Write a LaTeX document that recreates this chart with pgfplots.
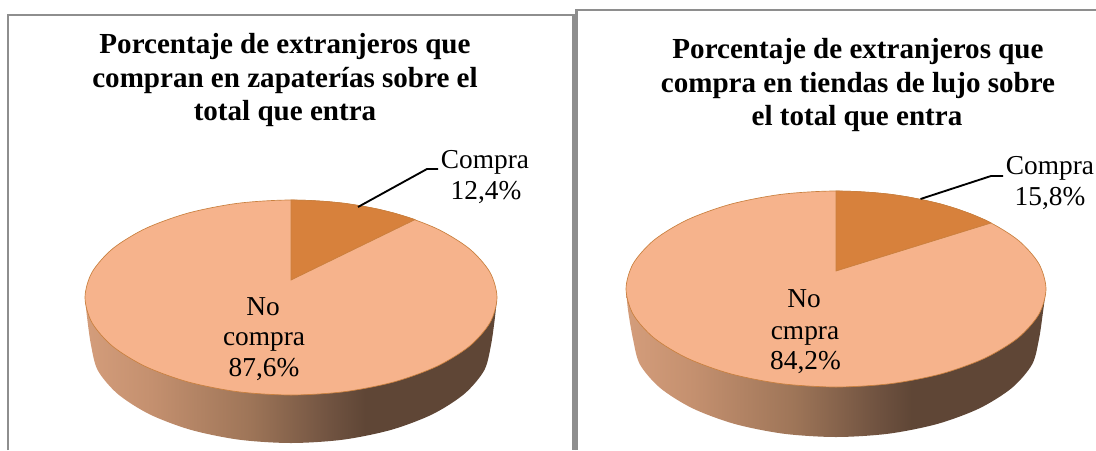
\documentclass[border=0pt]{standalone}
\usepackage{pgfplots}
\pgfplotsset{compat=1.18}
\usepackage{fontspec}
\setmainfont{Liberation Serif}
\definecolor{slicelight}{HTML}{F6B38C}
\definecolor{slicedark}{HTML}{D7813C}
\definecolor{edgeor}{HTML}{C9803F}
\definecolor{framegray}{HTML}{8E8E8E}
\definecolor{sA}{HTML}{D49D7B}
\definecolor{sB}{HTML}{C4906F}
\definecolor{sC}{HTML}{9E7558}
\definecolor{sD}{HTML}{6F5240}
\definecolor{sE}{HTML}{5F4636}
\pgfdeclarehorizontalshading{sidegrad}{100bp}{color(0bp)=(sA); color(25bp)=(sA); color(33bp)=(sB); color(45bp)=(sC); color(55bp)=(sD); color(59bp)=(sE); color(100bp)=(sE)}
\newcommand{\tf}{\fontsize{21.8}{26}\selectfont\bfseries}
\newcommand{\lf}{\fontsize{20.5}{24}\selectfont}
\begin{document}
\begin{tikzpicture}
\useasboundingbox (0,0) rectangle (822pt,337.5pt);
\begin{axis}[at={(0,0)},anchor=south west,scale only axis,width=822pt,height=337.5pt,xmin=0,xmax=1096,ymin=0,ymax=450,y dir=reverse,hide axis,clip=true]
% frames
\addplot[framegray,line width=1.9pt,no marks] coordinates {(8,450)(8,15)(573.5,15)(573.5,450)};
\addplot[framegray,line width=1.9pt,no marks] coordinates {(576.5,450)(576.5,10)(1096,10)};
% left side
\addplot[shade,shading=sidegrad,draw=none,no marks,smooth] coordinates {(85,297.5)(87,317)(91,345)(97.8,370.4)(117.8,394)(149.6,414.3)(191,429.9)(239.2,439.7)(291,443)(342.8,439.7)(391,429.9)(432.4,414.3)(464.2,394)(484.2,370.4)(491,345)(495,317)(497,297.5)} --cycle;
% left top
\addplot[fill=slicelight,draw=edgeor,line width=0.5pt,no marks,smooth cycle] coordinates {(291,200)(344.3,203.3)(394,213.1)(436.7,228.6)(469.4,248.75)(490,272.3)(497,297.5)(490,322.7)(469.4,346.25)(436.7,366.4)(394,381.9)(344.3,391.7)(291,395)(237.7,391.7)(188,381.9)(145.3,366.4)(112.6,346.25)(92,322.7)(85,297.5)(92,272.3)(112.6,248.75)(145.3,228.6)(188,213.1)(237.7,203.3)};
% left wedge 12.4
\addplot[fill=slicedark,draw=edgeor,line width=0.5pt,no marks] coordinates {(291,280)(291,200)(309,200.4)(326.8,201.5)(344.3,203.3)(361.5,205.9)(378.1,209.1)(394,213.1)(409.2,217.6)(415,219.6)} --cycle;
\addplot[black,line width=1.4pt,no marks] coordinates {(358,207)(427,169)(438,169)};
% right side
\addplot[shade,shading=sidegrad,draw=none,no marks,smooth] coordinates {(626,289)(628,310)(633,339)(639.9,364.4)(660.2,388)(692.5,408.3)(734.5,423.9)(783.5,433.7)(836,437)(888.5,433.7)(937.5,423.9)(979.5,408.3)(1011.8,388)(1032.1,364.4)(1039,339)(1043,312)(1046,289)} --cycle;
% right top
\addplot[fill=slicelight,draw=edgeor,line width=0.5pt,no marks,smooth cycle] coordinates {(836,191)(890.4,194.3)(941,204.1)(984.5,219.7)(1017.9,240)(1038.8,263.6)(1046,289)(1038.8,314.4)(1017.9,338)(984.5,358.3)(941,373.9)(890.4,383.7)(836,387)(781.6,383.7)(731,373.9)(687.5,358.3)(654.1,338)(633.2,314.4)(626,289)(633.2,263.6)(654.1,240)(687.5,219.7)(731,204.1)(781.6,194.3)};
% right wedge 15.8
\addplot[fill=slicedark,draw=edgeor,line width=0.5pt,no marks] coordinates {(836,271)(836,191)(854.3,191.4)(872.5,192.5)(890.4,194.3)(907.8,196.9)(924.7,200.2)(941,204.1)(956.5,208.7)(971,213.9)(984.5,219.7)(991,223)} --cycle;
\addplot[black,line width=1.4pt,no marks] coordinates {(920.5,199)(991,176)(1003,176)};
% left text
\node[anchor=base,inner sep=0pt] at (axis cs:285,53) {\tf Porcentaje de extranjeros que};
\node[anchor=base,inner sep=0pt] at (axis cs:285,87) {\tf compran en zapaterías sobre el};
\node[anchor=base,inner sep=0pt] at (axis cs:285,120) {\tf total que entra};
\node[anchor=base,inner sep=0pt] at (axis cs:485,168) {\lf Compra};
\node[anchor=base,inner sep=0pt] at (axis cs:486,199) {\lf 12,4\%};
\node[anchor=base,inner sep=0pt] at (axis cs:263,315) {\lf No};
\node[anchor=base,inner sep=0pt] at (axis cs:264,345) {\lf compra};
\node[anchor=base,inner sep=0pt] at (axis cs:264,376) {\lf 87,6\%};
% right text
\node[anchor=base,inner sep=0pt] at (axis cs:858,58) {\tf Porcentaje de extranjeros que};
\node[anchor=base,inner sep=0pt] at (axis cs:858,92) {\tf compra en tiendas de lujo sobre};
\node[anchor=base,inner sep=0pt] at (axis cs:857,125) {\tf el total que entra};
\node[anchor=base,inner sep=0pt] at (axis cs:1050,174) {\lf Compra};
\node[anchor=base,inner sep=0pt] at (axis cs:1050,205) {\lf 15,8\%};
\node[anchor=base,inner sep=0pt] at (axis cs:804,307) {\lf No};
\node[anchor=base,inner sep=0pt] at (axis cs:805,339) {\lf cmpra};
\node[anchor=base,inner sep=0pt] at (axis cs:805.5,369) {\lf 84,2\%};
\end{axis}
\end{tikzpicture}
\end{document}
